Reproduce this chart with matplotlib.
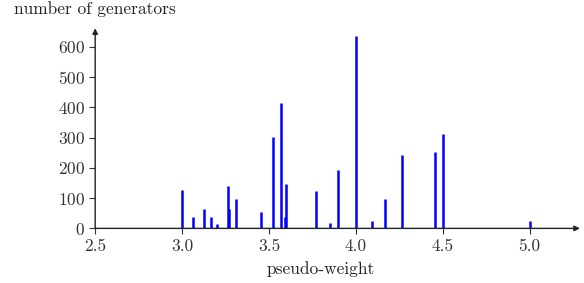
import matplotlib
matplotlib.use("Agg")
import matplotlib.pyplot as plt

plt.rcParams["font.family"] = ["cmr10", "DejaVu Serif"]
plt.rcParams["axes.formatter.use_mathtext"] = True

# pseudo-weight of each bar and number of generators
weights = [3.0, 3.0625, 3.125, 3.1667, 3.2, 3.2667, 3.2727, 3.3125, 3.4545,
           3.5217, 3.5714, 3.5938, 3.6, 3.7692, 3.8519, 3.9, 4.0, 4.0909,
           4.1667, 4.2632, 4.4545, 4.5, 5.0]
counts = [126, 36, 64, 36, 16, 139, 63, 96, 54,
          301, 413, 36, 145, 125, 18, 193, 635, 24,
          97, 241, 251, 311, 25]
x_ticks = [2.5, 3.0, 3.5, 4.0, 4.5, 5.0]
y_ticks = [0, 100, 200, 300, 400, 500, 600]

fig = plt.figure(figsize=(5.84, 2.83), dpi=100)
ax = fig.add_axes([0.163, 0.193, 0.83, 0.707])

ax.vlines(weights, 0, counts, colors="blue", linewidth=1.8)

ax.set_xlim(2.5, 5.29)
ax.set_ylim(0, 661)
ax.set_xticks(x_ticks)
ax.set_xticklabels(["%.1f" % t for t in x_ticks])
ax.set_yticks(y_ticks)
ax.tick_params(labelsize=12.5, direction="out", length=4.5, width=0.8,
               colors="#333333", pad=3)

for side in ["top", "right", "left", "bottom"]:
    ax.spines[side].set_visible(False)

# axis lines with arrow heads
ax.annotate("", xy=(1, 0), xytext=(0, 0), xycoords="axes fraction",
            arrowprops=dict(arrowstyle="-|>", color="#222222", lw=1.0,
                            mutation_scale=8, shrinkA=0, shrinkB=0))
ax.annotate("", xy=(0, 1), xytext=(0, 0), xycoords="axes fraction",
            arrowprops=dict(arrowstyle="-|>", color="#222222", lw=1.0,
                            mutation_scale=8, shrinkA=0, shrinkB=0))

ax.text(0, 1.07, "number of generators", transform=ax.transAxes,
        ha="center", va="baseline", fontsize=12.5, color="#222222")
ax.text(3.8, -0.165, "pseudo-weight", transform=ax.get_xaxis_transform(),
        ha="center", va="top", fontsize=12.5, color="#222222")

fig.savefig("out.png", dpi=100)
